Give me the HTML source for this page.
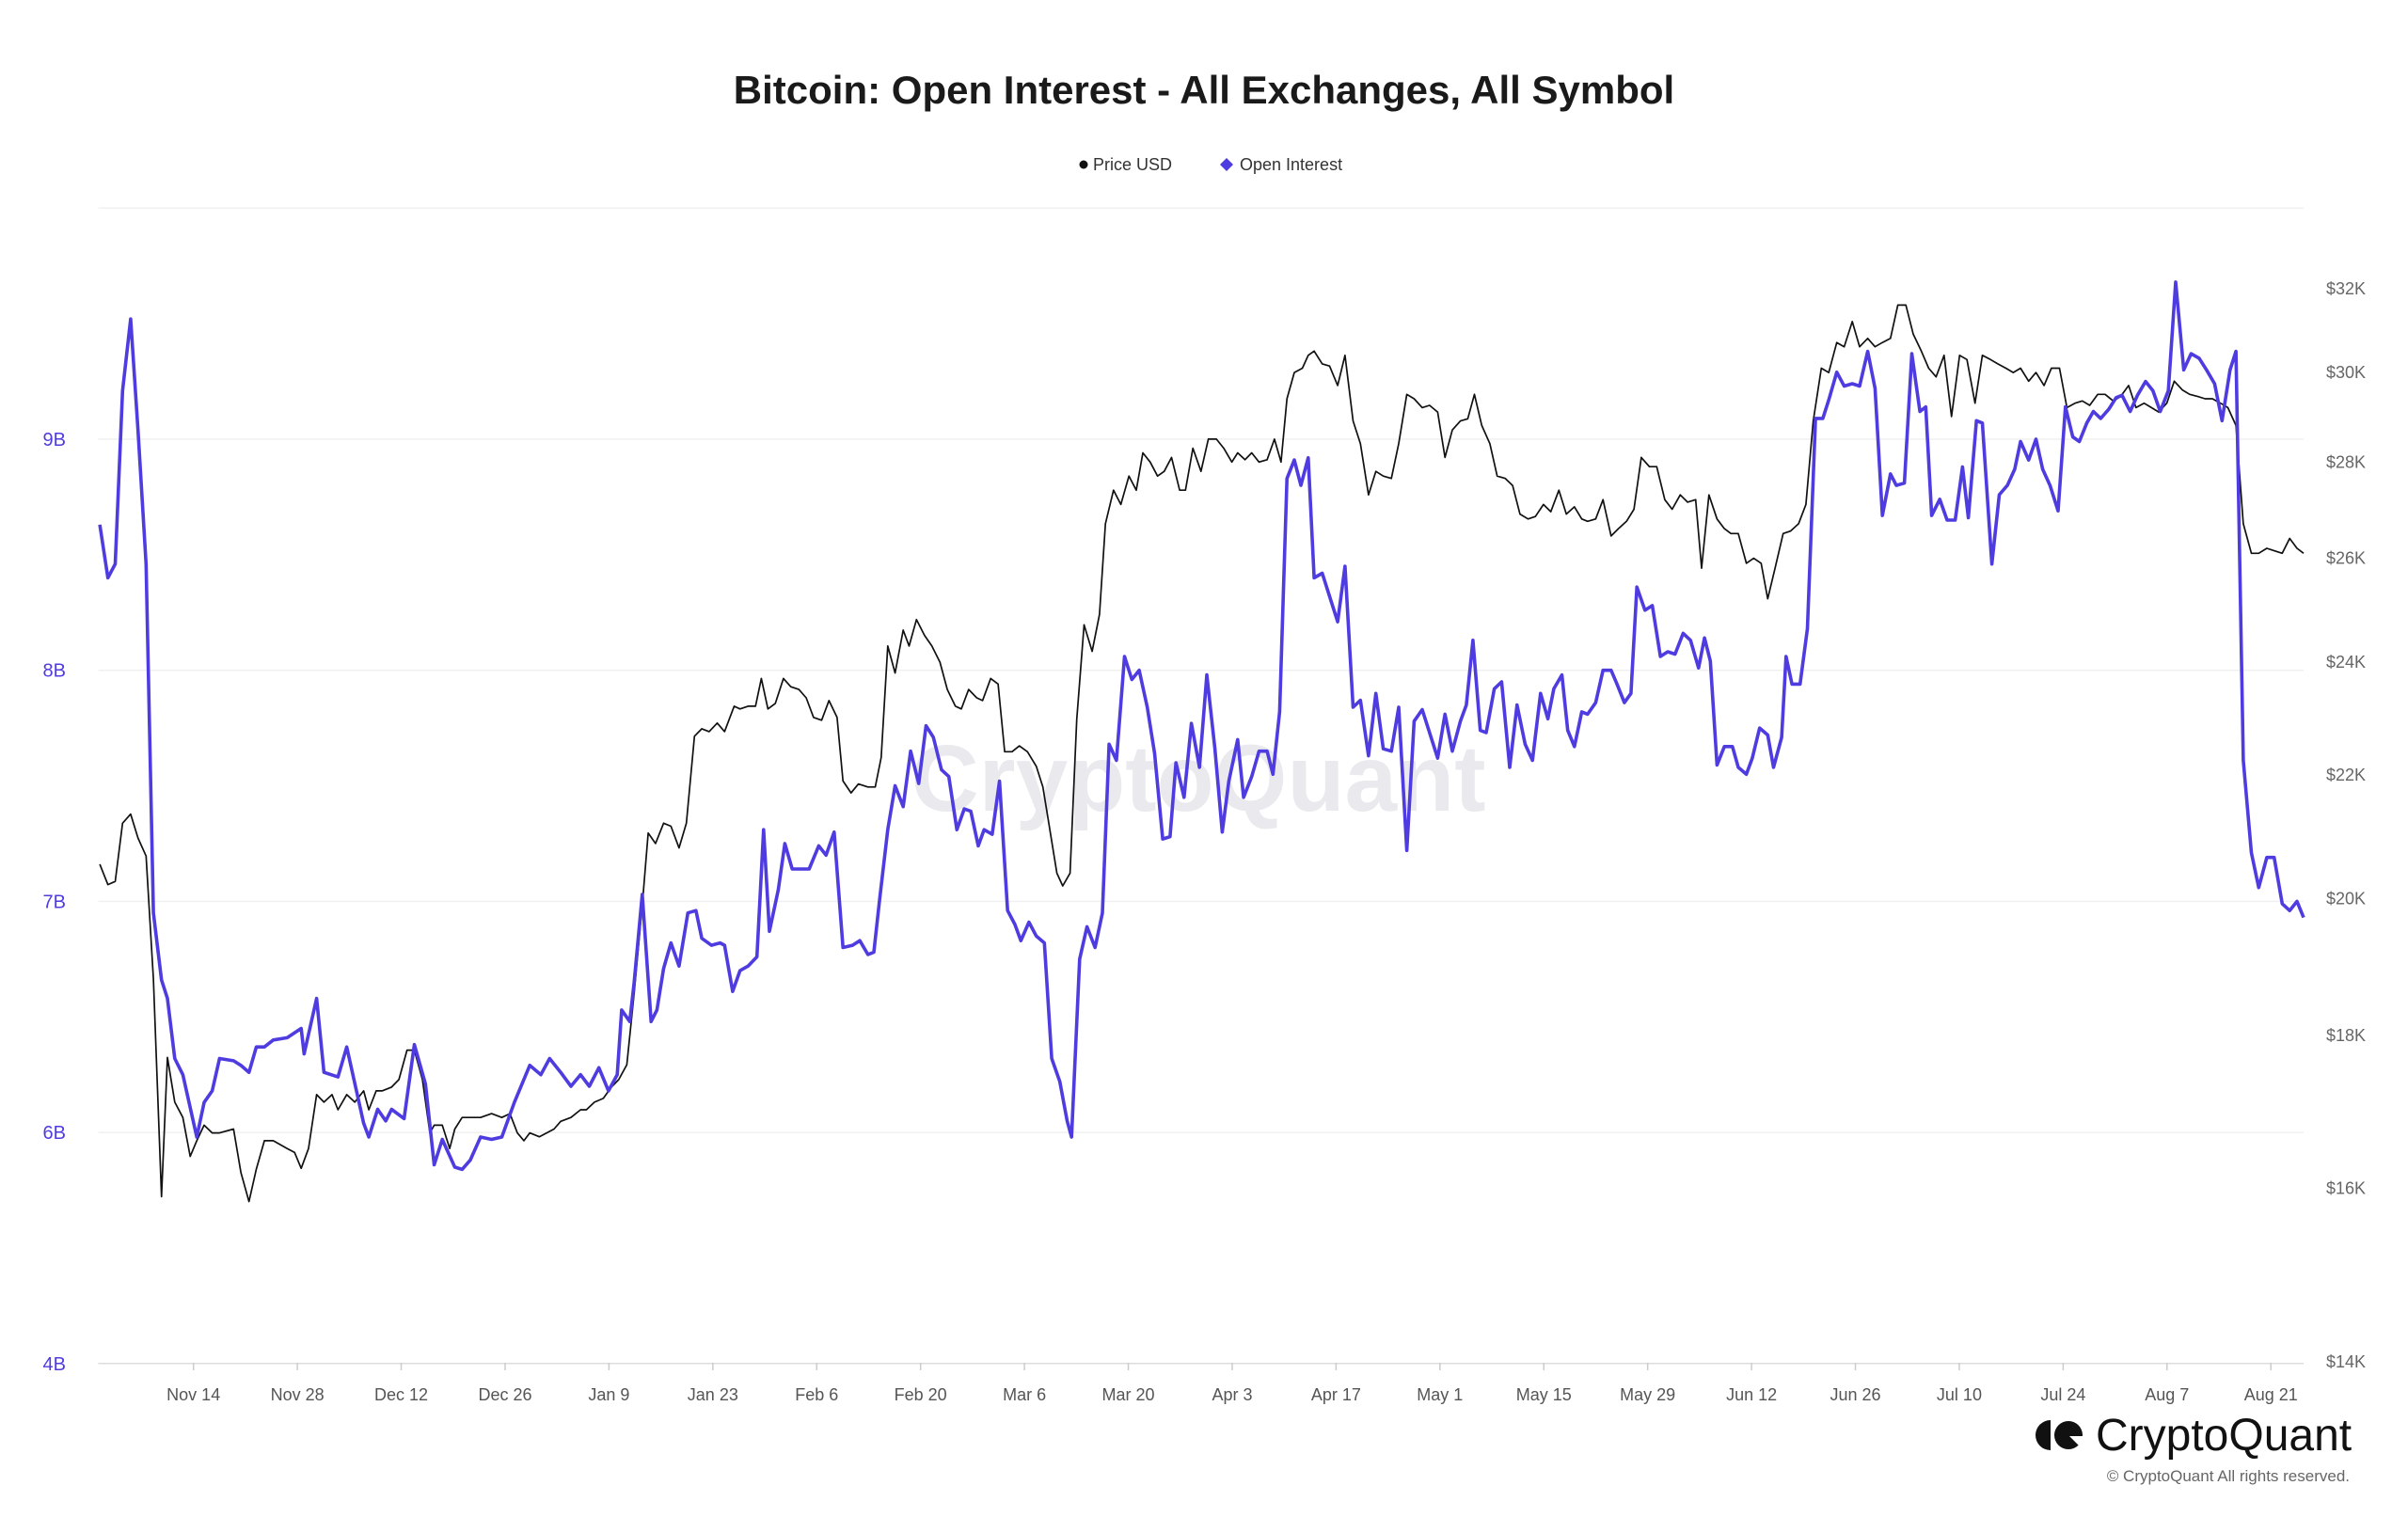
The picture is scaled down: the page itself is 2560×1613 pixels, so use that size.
<!DOCTYPE html>
<html><head><meta charset="utf-8"><style>
html,body{margin:0;padding:0;background:#fff;}
svg{display:block;font-family:"Liberation Sans",sans-serif;}
</style></head><body>
<svg id="chart" width="2560" height="1613" viewBox="0 0 2560 1613" xmlns="http://www.w3.org/2000/svg">
<rect width="2560" height="1613" fill="#fff"/>
<text x="1280" y="110" text-anchor="middle" font-size="42" font-weight="bold" fill="#1a1a1a">Bitcoin: Open Interest - All Exchanges, All Symbol</text>
<g>
<g><circle cx="1152" cy="175" r="4.5" fill="#111"/><text x="1162" y="181" font-size="18" fill="#333">Price USD</text></g>
<g><path d="M1304 168 L1311 175 L1304 182 L1297 175 Z" fill="#4f3ce0"/><text x="1318" y="181" font-size="18" fill="#333">Open Interest</text></g>
</g>
<text x="1274" y="862" text-anchor="middle" font-size="100" font-weight="bold" fill="#6b6b8a" fill-opacity="0.15">CryptoQuant</text>
<g id="grid"></g>
<g id="xaxis"></g>
<g id="yleft"></g>
<g id="yright"></g>
<g id="series"></g>
<g>
<path d="M2180 1510 A16 16 0 0 0 2180 1542 Z" fill="#111"/>
<circle cx="2199" cy="1526" r="15" fill="#111"/>
<path d="M2200 1527 L2214 1541 L2214 1527 Z" fill="#fff"/>
<text x="2228" y="1542" font-size="48" fill="#111">CryptoQuant</text>
<text x="2498" y="1575" text-anchor="end" font-size="17" fill="#666">© CryptoQuant All rights reserved.</text>
</g>
</svg>
<script>
const oiDays=[0.2,1.3,2.3,3.3,4.4,5.4,6.5,7.5,8.6,9.4,10.4,11.5,13.4,14.4,15.5,16.5,18.4,19.4,20.5,21.5,22.6,23.8,25.7,27.6,28.0,29.7,30.7,32.6,33.8,36.1,36.8,38.0,39.1,39.9,41.6,43.0,44.5,45.7,46.8,48.5,49.5,50.6,52.0,53.5,54.9,56.6,58.7,60.2,61.4,62.9,64.3,65.6,66.8,68.1,69.4,70.6,71.2,72.3,72.9,74.0,75.2,76.0,76.9,77.9,79.0,80.2,81.3,82.1,83.4,84.6,85.2,86.3,87.3,88.4,89.6,90.5,91.3,92.5,93.4,94.4,95.7,96.7,98.0,99.0,100.1,101.3,102.6,103.6,104.7,105.5,106.3,107.4,108.4,109.5,110.5,111.6,112.6,113.6,114.7,115.7,116.8,117.8,118.7,119.7,120.5,121.6,122.6,123.7,124.7,125.5,126.6,127.6,128.7,129.7,130.8,131.8,132.4,133.5,134.5,135.6,136.6,137.5,138.5,139.6,140.6,141.6,142.7,143.7,144.8,145.8,146.6,147.7,148.7,149.8,150.8,151.9,152.9,153.8,155.0,155.8,156.9,157.9,159.0,159.8,160.7,161.7,162.7,163.6,164.6,165.4,166.5,167.5,168.6,169.6,170.7,171.7,172.8,173.8,174.8,175.9,176.9,178.0,179.0,180.1,181.1,182.2,183.2,184.2,185.3,186.1,187.0,188.0,188.8,189.9,190.9,192.0,193.0,194.1,195.1,196.2,197.2,198.0,199.1,199.9,200.8,201.8,202.6,203.7,204.7,205.8,206.6,207.6,208.5,209.3,210.4,211.4,212.5,213.5,214.5,215.6,216.6,217.7,218.5,219.3,220.2,221.2,222.3,223.1,224.2,225.0,226.0,227.1,227.9,229.0,229.6,230.4,231.5,232.5,233.6,234.6,235.4,236.5,237.5,238.6,239.6,240.7,241.7,242.7,243.8,244.6,245.7,246.7,247.8,248.6,249.4,250.5,251.5,252.6,253.6,254.4,255.5,256.3,257.6,258.6,259.7,260.7,261.5,262.6,263.6,264.5,265.5,266.6,267.6,268.6,269.5,270.5,271.4,272.4,273.5,274.5,275.3,276.4,277.4,278.5,279.5,280.5,281.6,282.6,283.7,284.7,285.8,286.8,287.9,288.9,290.0,290.8,291.8,292.9,293.9,295.0,296.0,297.1,298.1,299.1,300.0];
const oiValues=[8.63,8.40,8.46,9.21,9.52,9.04,8.46,6.95,6.66,6.58,6.32,6.25,5.98,6.13,6.18,6.32,6.31,6.29,6.26,6.37,6.37,6.40,6.41,6.45,6.34,6.58,6.26,6.24,6.37,6.04,5.98,6.10,6.05,6.10,6.06,6.38,6.21,5.86,5.97,5.85,5.84,5.88,5.98,5.97,5.98,6.13,6.29,6.25,6.32,6.26,6.20,6.25,6.20,6.28,6.18,6.25,6.53,6.48,6.65,7.03,6.48,6.53,6.71,6.82,6.72,6.95,6.96,6.84,6.81,6.82,6.81,6.61,6.70,6.72,6.76,7.31,6.87,7.05,7.25,7.14,7.14,7.14,7.24,7.20,7.30,6.80,6.81,6.83,6.77,6.78,7.01,7.31,7.50,7.41,7.65,7.51,7.76,7.71,7.57,7.54,7.31,7.40,7.39,7.24,7.31,7.29,7.52,6.96,6.90,6.83,6.91,6.85,6.82,6.32,6.22,6.05,5.98,6.75,6.89,6.80,6.95,7.68,7.61,8.06,7.96,8.00,7.84,7.64,7.27,7.28,7.60,7.45,7.77,7.58,7.98,7.66,7.30,7.52,7.70,7.45,7.54,7.65,7.65,7.55,7.82,8.83,8.91,8.80,8.92,8.40,8.42,8.32,8.21,8.45,7.84,7.87,7.63,7.90,7.66,7.65,7.84,7.22,7.78,7.83,7.73,7.62,7.81,7.65,7.78,7.85,8.13,7.74,7.73,7.92,7.95,7.58,7.85,7.68,7.61,7.90,7.79,7.92,7.98,7.74,7.67,7.82,7.81,7.86,8.00,8.00,7.94,7.86,7.90,8.36,8.26,8.28,8.06,8.08,8.07,8.16,8.13,8.01,8.14,8.04,7.59,7.67,7.67,7.58,7.55,7.62,7.75,7.72,7.58,7.71,8.06,7.94,7.94,8.18,9.09,9.09,9.17,9.29,9.23,9.24,9.23,9.38,9.22,8.67,8.85,8.80,8.81,9.37,9.12,9.14,8.67,8.74,8.65,8.65,8.88,8.66,9.08,9.07,8.46,8.76,8.80,8.87,8.99,8.91,9.00,8.87,8.80,8.69,9.14,9.01,8.99,9.07,9.12,9.09,9.13,9.18,9.19,9.12,9.19,9.25,9.21,9.12,9.21,9.68,9.30,9.37,9.35,9.30,9.24,9.08,9.30,9.38,7.61,7.21,7.06,7.19,7.19,6.99,6.96,7.00,6.93];
const priceDays=[0.2,1.3,2.3,3.3,4.4,5.4,6.5,7.5,8.6,9.4,10.4,11.5,12.5,13.4,14.4,15.5,16.5,18.4,19.4,20.5,21.5,22.6,23.8,25.7,26.7,27.6,28.6,29.7,30.7,31.8,32.6,33.8,34.9,36.1,36.8,37.8,38.6,39.9,40.9,42.0,43.0,44.1,45.1,45.7,46.8,47.8,48.5,49.5,50.6,52.0,53.5,54.9,56.0,57.0,57.9,58.7,60.0,61.0,62.0,62.9,64.3,65.6,66.4,67.5,68.7,69.8,70.8,71.9,72.9,74.0,74.8,75.8,76.9,77.9,79.0,80.0,81.1,82.1,83.1,84.2,85.2,86.5,87.3,88.4,89.4,90.2,91.1,92.1,93.2,94.2,95.3,96.3,97.3,98.4,99.4,100.5,101.3,102.4,103.4,104.7,105.7,106.5,107.4,108.4,109.5,110.3,111.3,112.4,113.4,114.5,115.5,116.6,117.4,118.4,119.5,120.3,121.4,122.4,123.3,124.3,125.3,126.4,127.6,128.5,129.3,130.4,131.2,132.2,133.1,134.1,135.2,136.2,137.0,138.1,139.1,140.2,141.2,142.1,143.1,144.1,145.0,146.0,147.1,147.9,148.9,150.0,151.0,152.1,153.1,154.2,155.0,156.0,156.9,157.9,159.0,160.0,160.9,161.7,162.7,163.8,164.6,165.4,166.5,167.5,168.6,169.6,170.7,171.7,172.8,173.8,174.8,175.9,176.9,178.0,179.0,180.1,181.1,182.2,183.2,184.2,185.3,186.3,187.2,188.2,189.3,190.3,191.4,192.4,193.4,194.5,195.5,196.6,197.6,198.7,199.7,200.8,201.8,202.6,203.7,204.7,205.8,206.8,207.9,208.9,209.9,211.0,212.0,213.1,214.1,215.2,216.2,217.3,218.1,219.1,220.2,221.2,222.1,223.1,224.2,225.2,226.2,227.1,228.1,229.2,230.2,231.3,232.3,233.3,234.4,235.4,236.5,237.5,238.6,239.6,240.7,241.7,242.7,243.8,244.8,245.9,246.9,248.0,249.0,250.0,251.1,252.1,253.2,254.2,255.3,256.3,257.4,258.4,259.5,260.5,261.5,262.6,263.6,264.7,265.7,266.8,267.8,268.9,269.9,270.9,272.0,273.0,274.1,275.1,276.2,277.2,278.3,279.3,280.3,281.4,282.4,283.5,284.5,285.6,286.6,287.6,288.7,289.7,290.8,291.8,292.9,293.9,295.0,296.0,297.1,298.1,299.1,300.0];
const priceValues=[20.54,20.22,20.27,21.2,21.35,20.96,20.67,18.8,15.9,17.7,17.1,16.9,16.4,16.6,16.8,16.7,16.7,16.75,16.2,15.84,16.24,16.6,16.6,16.5,16.45,16.25,16.5,17.2,17.1,17.2,17.0,17.2,17.1,17.25,17.0,17.25,17.25,17.3,17.4,17.8,17.8,17.4,16.7,16.8,16.8,16.5,16.75,16.9,16.9,16.9,16.95,16.9,16.95,16.7,16.6,16.7,16.65,16.7,16.75,16.85,16.9,17.0,17.0,17.1,17.15,17.3,17.4,17.6,18.6,19.9,21.04,20.87,21.2,21.15,20.8,21.2,22.67,22.8,22.75,22.9,22.75,23.2,23.15,23.2,23.2,23.7,23.15,23.25,23.7,23.55,23.5,23.35,23.0,22.95,23.3,23.0,21.9,21.7,21.85,21.8,21.8,22.3,24.3,23.8,24.6,24.3,24.8,24.5,24.3,24.0,23.5,23.2,23.15,23.5,23.35,23.3,23.7,23.6,22.4,22.4,22.5,22.4,22.15,21.8,21.2,20.4,20.2,20.4,22.96,24.7,24.2,24.9,26.7,27.4,27.1,27.7,27.4,28.2,28.0,27.7,27.8,28.1,27.4,27.4,28.3,27.8,28.5,28.5,28.3,28.0,28.2,28.05,28.2,28.0,28.05,28.5,28.0,29.4,30.0,30.1,30.4,30.5,30.2,30.15,29.7,30.4,28.9,28.4,27.3,27.8,27.7,27.65,28.4,29.5,29.4,29.2,29.25,29.1,28.1,28.7,28.9,28.95,29.5,28.8,28.4,27.7,27.65,27.5,26.9,26.8,26.85,27.1,26.95,27.4,26.9,27.05,26.8,26.75,26.8,27.2,26.45,26.6,26.75,27.0,28.1,27.9,27.9,27.2,27.0,27.3,27.15,27.2,25.8,27.3,26.8,26.6,26.5,26.5,25.9,26.0,25.9,25.2,25.8,26.5,26.55,26.7,27.1,28.9,30.1,30.0,30.7,30.6,31.2,30.6,30.8,30.6,30.7,30.8,31.6,31.6,30.9,30.5,30.1,29.9,30.4,29.0,30.4,30.3,29.3,30.4,30.3,30.2,30.1,30.0,30.1,29.8,30.0,29.7,30.1,30.1,29.2,29.3,29.35,29.25,29.5,29.5,29.35,29.45,29.7,29.2,29.3,29.2,29.1,29.3,29.8,29.6,29.5,29.45,29.4,29.4,29.3,29.2,28.8,26.7,26.1,26.1,26.2,26.15,26.1,26.4,26.2,26.1];
const xTickLabels=["Nov 14","Nov 28","Dec 12","Dec 26","Jan 9","Jan 23","Feb 6","Feb 20","Mar 6","Mar 20","Apr 3","Apr 17","May 1","May 15","May 29","Jun 12","Jun 26","Jul 10","Jul 24","Aug 7","Aug 21"];
const xTickDays=[12.95,27.08,41.21,55.34,69.47,83.6,97.73,111.86,125.99,140.12,154.25,168.38,182.51,196.64,210.77,224.9,239.03,253.16,267.29,281.42,295.55];
const oiTickValues=[10,9,8,7,6,5];
const oiTickLabels=["","9B","8B","7B","6B","4B"];
const priceTickValues=[32,30,28,26,24,22,20,18,16,14];
const priceTickLabels=["$32K","$30K","$28K","$26K","$24K","$22K","$20K","$18K","$16K","$14K"];

const NS="http://www.w3.org/2000/svg";
const X0=104.5,X1=2449;
function xScale(d){return X0+d*(X1-X0)/300;}
function yOI(v){return 467+(9-v)*245.7;}
function yPrice(p){return 1448-Math.log(p/14)/Math.log(32/14)*1141;}
function mk(tag,attrs,parent){const e=document.createElementNS(NS,tag);for(const k in attrs)e.setAttribute(k,attrs[k]);parent.appendChild(e);return e;}

const grid=document.getElementById('grid');
oiTickValues.forEach(function(v,i){
  const y=yOI(v);
  const l=mk('line',{x1:X0,x2:X1,y1:y,y2:y,stroke:(i===oiTickValues.length-1)?'#dcdcdc':'#f0f0f0','stroke-width':1.5},grid);
  
  
});
const yl=document.getElementById('yleft');
oiTickValues.forEach(function(v,i){
  if(!oiTickLabels[i])return;
  const t=mk('text',{x:70,y:yOI(v)+7,'text-anchor':'end','font-size':20,fill:'#4f3ce0'},yl);
  t.textContent=oiTickLabels[i];
  
  
});
const yr=document.getElementById('yright');
priceTickValues.forEach(function(v,i){
  const t=mk('text',{x:2473,y:yPrice(v)+6,'font-size':18,fill:'#666'},yr);
  t.textContent=priceTickLabels[i];
  
  
});
const xa=document.getElementById('xaxis');
xTickDays.forEach(function(d,i){
  const x=xScale(d);
  const tk=mk('line',{x1:x,x2:x,y1:1449,y2:1457,stroke:'#ccc','stroke-width':1.5},xa);
  
  
  const t=mk('text',{x:x,y:1489,'text-anchor':'middle','font-size':18,fill:'#555'},xa);
  t.textContent=xTickLabels[i];
  
  
});
const ser=document.getElementById('series');
let pd=priceDays.map(function(d,i){return (i?'L':'M')+xScale(d).toFixed(1)+' '+yPrice(priceValues[i]).toFixed(1);}).join(' ');
const pl=mk('path',{d:pd,fill:'none',stroke:'#111','stroke-width':1.7,'stroke-linejoin':'round'},ser);


let od=oiDays.map(function(d,i){return (i?'L':'M')+xScale(d).toFixed(1)+' '+yOI(oiValues[i]).toFixed(1);}).join(' ');
const ol=mk('path',{d:od,fill:'none',stroke:'#4f3ce0','stroke-width':3.6,'stroke-linejoin':'round'},ser);


</script>
</body></html>
